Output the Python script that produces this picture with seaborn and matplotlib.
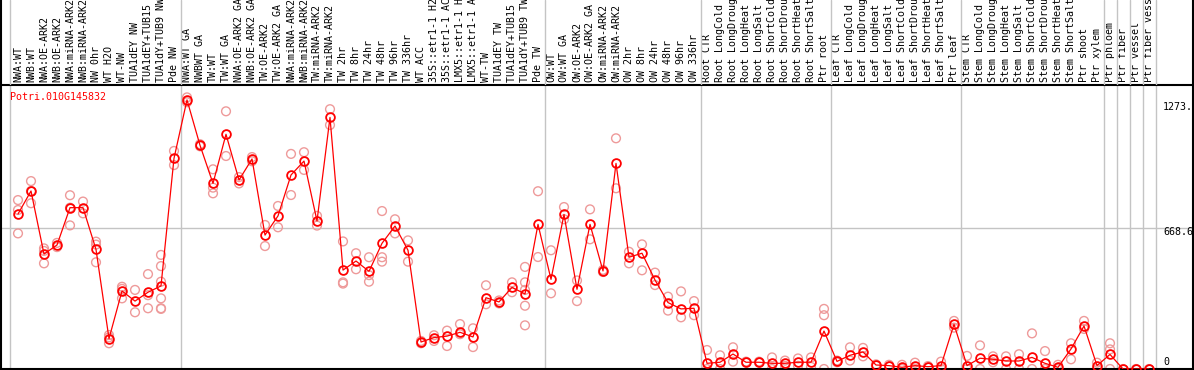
import matplotlib
matplotlib.use("Agg")
import matplotlib.pyplot as plt
import seaborn as sns
import pandas as pd
import numpy as np

# ---------------- data ----------------
gene_id = "Potri.010G145832"

labels = [
    "NWA:WT", "NWB:WT", "NWA:OE-ARK2", "NWB:OE-ARK2", "NWA:miRNA-ARK2", "NWB:miRNA-ARK2",
    "NW 0hr", "WT H2O", "WT-NW", "TUA1dEY NW", "TUA1dEY+TUB15 NW", "TUA1dY+TUB9 NW", "Pde NW",
    "NWA:WT GA", "NWBWT GA", "TW:WT", "TW:WT GA", "NWA:OE-ARK2 GA", "NWB:OE-ARK2 GA",
    "TW:OE-ARK2", "TW:OE-ARK2 GA", "NWA:miRNA-ARK2", "NWB:miRNA-ARK2", "TW:miRNA-ARK2",
    "TW:miRNA-ARK2", "TW 2hr", "TW 8hr", "TW 24hr", "TW 48hr", "TW 96hr", "TW 336hr", "WT ACC",
    "35S::etr1-1 H2O", "35S::etr1-1 ACC", "LMX5::etr1-1 H2O", "LMX5::etr1-1 ACC", "WT-TW",
    "TUA1dEY TW", "TUA1dEY+TUB15 TW", "TUA1dY+TUB9 TW", "Pde TW",
    "OW:WT", "OW:WT GA", "OW:OE-ARK2", "OW:OE-ARK2 GA", "OW:miRNA-ARK2", "OW:miRNA-ARK2",
    "OW 2hr", "OW 8hr", "OW 24hr", "OW 48hr", "OW 96hr", "OW 336hr",
    "Root CTR", "Root LongCold", "Root LongDrought", "Root LongHeat", "Root LongSalt",
    "Root ShortCold", "Root ShortDrought", "Root ShortHeat", "Root ShortSalt", "Ptr root",
    "Leaf CTR", "Leaf LongCold", "Leaf LongDrought", "Leaf LongHeat", "Leaf LongSalt",
    "Leaf ShortCold", "Leaf ShortDrought", "Leaf ShortHeat", "Leaf ShortSalt", "Ptr leaf",
    "Stem CTR", "Stem LongCold", "Stem LongDrought", "Stem LongHeat", "Stem LongSalt",
    "Stem ShortCold", "Stem ShortDrought", "Stem ShortHeat", "Stem ShortSalt", "Ptr shoot",
    "Ptr xylem", "Ptr phloem", "Ptr fiber", "Ptr vessel", "Ptr fiber vessel",
]

group_sizes = [13, 28, 12, 10, 10, 11, 1, 1, 1, 1]

means = [
    735, 844, 545, 588, 765, 765, 567, 144, 370, 322, 364, 394, 999,
    1276, 1061, 880, 1113, 896, 996, 635, 726, 920, 986, 702, 1193, 469, 512, 463, 596,
    678, 563, 128, 149, 156, 174, 152, 338, 318, 387, 356, 686,
    425, 733, 378, 686, 465, 975, 530, 549, 422, 315, 285, 288,
    27, 32, 71, 32, 32, 27, 27, 32, 32, 180,
    36, 65, 81, 19, 16, 8, 16, 11, 16, 212,
    16, 51, 46, 38, 38, 55, 27, 8, 95, 204, 16,
    69, 0, 0, 0,
]

replicates = [
    [801, 754, 643], [891, 844, 786], [572, 560, 501], [598, 578], [824, 765, 681],
    [794, 738], [604, 590, 506], [161, 150, 122], [390, 380, 335], [375, 269],
    [450, 350, 288], [541, 488, 414, 335, 288, 285], [1034, 967],
    [1288, 1265], [1066, 1056], [947, 860, 833], [1222, 1010], [910, 880], [1005, 985],
    [683, 583], [773, 672], [1020, 825], [1028, 944], [726, 680], [1232, 1157],
    [605, 411, 405], [549, 473], [530, 445, 414], [749, 530, 509], [710, 643], [610, 509],
    [133, 122], [160, 133], [182, 109], [213, 165], [193, 104], [397, 307], [325, 311],
    [411, 364], [484, 411, 375, 300, 207], [843, 531],
    [563, 359], [768, 710], [420, 322], [757, 615], [470, 460], [1094, 857], [556, 501],
    [591, 468], [457, 398], [343, 277], [368, 245], [322, 255],
    [90, 0], [65, 0], [103, 35], [35, 30], [35, 30], [55, 0], [40, 15], [50, 15], [55, 10],
    [285, 255, 0],
    [40, 32], [103, 40], [100, 60], [22, 16], [20, 12], [20, 0], [30, 2], [14, 8], [35, 0],
    [228, 196],
    [62, 0], [112, 0], [60, 32], [60, 0], [70, 0], [169, 0], [85, 0], [20, 0], [122, 46],
    [228, 190], [30, 0],
    [122, 93, 0], [0], [0], [0],
]

ytick_values = [0, 668.6, 1273]
ytick_texts = ["0", "668.6", "1273."]

# ---------------- styling ----------------
sns.set_theme(style="white")
mono = "DejaVu Sans Mono"
plt.rcParams["font.family"] = [mono, "DejaVu Sans"]
FS = 7.2

W, H = 1194, 370
fig = plt.figure(figsize=(W / 100, H / 100), dpi=100)
fig.patch.set_facecolor("white")

ax = fig.add_axes([1 / W, 1 / H, 1192 / W, 284 / H])
hax = fig.add_axes([1 / W, 285 / H, 1192 / W, 85 / H])
hax.patch.set_visible(False)

xmin, xmax = -17 / 13, 1175 / 13
for a in (ax, hax):
    a.set_xlim(xmin, xmax)
ax.set_ylim(0, 1346.7)
hax.set_ylim(0, 1)

# data frames
x = np.arange(len(means))
df_mean = pd.DataFrame({"x": x, "value": means})
rep_rows = [(i, v) for i, reps in enumerate(replicates) for v in reps]
df_rep = pd.DataFrame(rep_rows, columns=["x", "value"])

# grid / separators
grid_col = "#c4c4c4"
bounds = [-0.6] + list(np.cumsum(group_sizes) - 0.5)
for b in bounds:
    ax.axvline(b, color=grid_col, lw=1.0, zorder=0)
    hax.axvline(b, color=grid_col, lw=1.0, zorder=0)
ax.axhline(ytick_values[1], color=grid_col, lw=1.0, zorder=0)

# replicates
sns.scatterplot(data=df_rep, x="x", y="value", ax=ax, marker="o", s=40,
                facecolors="none", edgecolor="#ee9a9a", linewidth=1.0,
                zorder=2, legend=False)
# means
sns.lineplot(data=df_mean, x="x", y="value", ax=ax, color="#ff0000", lw=0.9,
             marker="o", markersize=6.3, markerfacecolor="none",
             markeredgecolor="#ff0000", markeredgewidth=1.3, zorder=3)

# axes cosmetics
ax.set_xlabel("")
ax.set_ylabel("")
ax.set_yticks([])
ax.set_xticks(x)
ax.set_xticklabels(labels, rotation=90, fontsize=FS, family=mono, color="black")
ax.tick_params(axis="x", top=True, labeltop=True, bottom=False, labelbottom=False,
               length=0, pad=2)
for s in ax.spines.values():
    s.set_color("black")
    s.set_linewidth(1.5)
    s.set_visible(True)

hax.set_xticks([])
hax.set_yticks([])
for k, s in hax.spines.items():
    s.set_color("black")
    s.set_linewidth(1.5)
    s.set_visible(k in ("left", "right"))

# right-side value labels
offsets = [5, -2.9, -4.7]
for v, t, dy in zip(ytick_values, ytick_texts, offsets):
    ax.annotate(t, xy=(88.08, v), xycoords="data", xytext=(0, dy),
                textcoords="offset points", ha="left", va="center",
                fontsize=FS, family=mono, color="black", annotation_clip=False)

fig.text(10 / W, 1 - 97 / H, gene_id, color="#ff0000", fontsize=FS, family=mono,
         ha="left", va="center")

fig.savefig("out.png", dpi=100)
